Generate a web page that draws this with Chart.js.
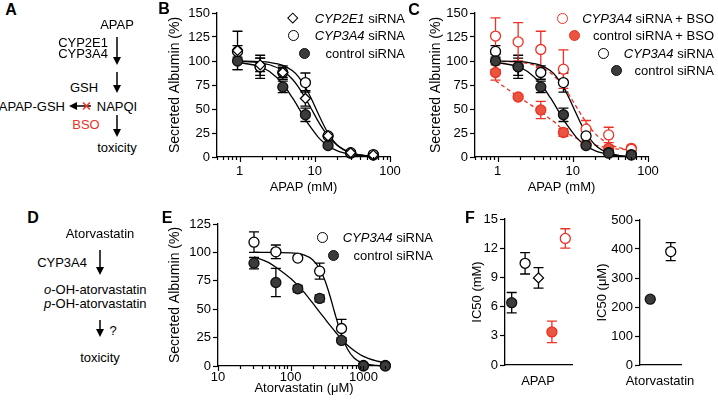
<!DOCTYPE html>
<html>
<head>
<meta charset="utf-8">
<title>APAP / atorvastatin albumin</title>
<script src="https://cdn.jsdelivr.net/npm/chart.js@4.4.1/dist/chart.umd.min.js"></script>
<style>
  body { margin: 0; background: #fff; }
  #fig { position: relative; width: 718px; height: 404px; overflow: hidden;
         font-family: "Liberation Sans", Arial, sans-serif; font-size: 13px; color: #000; }
  #fig canvas { position: absolute; }
  .t { position: absolute; white-space: nowrap; line-height: 1; }
  .letter { font-weight: bold; font-size: 16px; }
  .red { color: #ee3124; }
  .mk { position: absolute; box-sizing: border-box; }
</style>
</head>
<body>
<div id="fig">
  <svg id="arrows" width="718" height="404" style="position:absolute;left:0;top:0"></svg>
</div>
<script>
// ---- data ----
// APAP doses, mM (panels B, C)
const apapDose = [0.9375, 1.875, 3.75, 7.5, 15, 30, 60];
const apapTickLabels = [1, 10, 100];
const albuminTicks = [0, 25, 50, 75, 100, 125, 150];

const ctrlSi = [100, 94, 73, 44, 12, 4, 2];
const ctrlSiErr = [9, 9, 6, 7, 2, 1, 1];
const cyp3a4Si = [110, 94, 88, 77.5, 22, 4.5, 2.5];
const cyp3a4SiErr = [6, 12, 7, 10, 2, 1, 1];
const cyp2e1Si = [111, 96, 88, 61, 22, 4.5, 2];
const cyp2e1SiErr = [20, 7, 5, 8, 2, 1, 1];
const cyp3a4Bso = [126, 120, 112, 91.5, 29, 23, 8];
const cyp3a4BsoErr = [19, 20, 19, 20, 9, 8, 2];
const ctrlBso = [88, 62.5, 49, 25.5, 13, 9, 9];
const ctrlBsoErr = [8, 2, 9, 4, 2, 2, 2];

// fitted curves
const fitDose = [0.9375, 1.875, 2.5, 3.75, 5, 6, 7.5, 9, 11, 13, 15, 20, 30, 45, 60];
const ctrlFit = [98.7, 94, 89, 76, 62, 52, 39, 30, 21, 15.4, 11.6, 6.3, 2.6, 1, 0.5];
const cyp3a4Fit = [99.9, 99.4, 98.6, 95.5, 90, 84, 72.7, 60.7, 45.8, 33.9, 25, 12.3, 4, 1.2, 0.5];
const cyp2e1Fit = [99.7, 98.1, 96.1, 89.9, 81.3, 73.4, 61.2, 50, 37.7, 28.5, 21.8, 12, 4.7, 1.8, 0.9];
const cyp3a4BsoFit = [99.7, 98.7, 97.4, 93.4, 87.7, 82.2, 73.2, 64.1, 53, 43.7, 36.3, 24.1, 13.8, 9.1, 7.6];
const ctrlBsoFit = [79.5, 63, 56.5, 47.3, 39.5, 35, 27.5, 23.5, 19.8, 17.2, 15.2, 12.3, 9.3, 8, 7.3];

// atorvastatin doses, uM (panel E)
const atorDose = [31.25, 62.5, 125, 250, 500, 1000, 2000];
const atorTickLabels = [10, 100, 1000];
const atorAlbTicks = [0, 25, 50, 75, 100, 125];
const atorCyp3a4 = [109, 100.5, 95, 83.5, 33, 0.5, 0.5];
const atorCyp3a4Err = [9, 6, 0, 7, 8, 0, 0];
const atorCtrl = [90.5, 73.5, 68, 59.5, 22.5, 0, 0];
const atorCtrlErr = [5, 12.5, 3, 3, 0, 0, 0];
const atorFitDose = [31.25, 50, 62.5, 100, 125, 150, 200, 250, 300, 350, 400, 500, 600, 750, 1000, 1500, 2000];
const atorCyp3a4Fit = [100, 100, 99.9, 99.6, 99, 97.9, 93.5, 85.6, 74.1, 60.7, 47.5, 27, 15.2, 6.8, 2.3, 0.5, 0.1];
const atorCtrlFit = [96, 91, 87, 77, 71, 65.5, 55.5, 47.5, 41, 35.5, 31, 23.5, 18.5, 13.5, 8.5, 4.5, 2.8];

// IC50 (panel F)
const icApapGroups = ['control siRNA', 'CYP3A4 siRNA', 'CYP2E1 siRNA', 'control siRNA + BSO', 'CYP3A4 siRNA + BSO'];
const icApap = [6.4, 10.45, 8.95, 3.4, 13.0];
const icApapErr = [1.05, 1.1, 1.05, 1.1, 1.0];
const icApapTicks = [0, 3, 6, 9, 12, 15];
const icAtorGroups = ['control siRNA', 'CYP3A4 siRNA'];
const icAtor = [227, 391];
const icAtorErr = [0, 31];
const icAtorTicks = [0, 100, 200, 300, 400, 500];

// ---- styles ----
const FONT = '"Liberation Sans", Arial, sans-serif';
const BLACK_FILL = '#3b3b3b';
const RED = '#ee3124';
const RED_FILL = '#e9553e';
Chart.defaults.font.family = FONT;
Chart.defaults.color = '#000';

const fig = document.getElementById('fig');

const styleFilled = {pointStyle: 'circle', pointBackgroundColor: BLACK_FILL, pointBorderColor: '#111', errorColor: '#000'};
const styleOpen = {pointStyle: 'circle', pointBackgroundColor: '#fff', pointBorderColor: '#000', errorColor: '#000'};
const styleDiamond = {pointStyle: 'rectRot', pointBackgroundColor: '#fff', pointBorderColor: '#000', errorColor: '#000'};
const styleRedOpen = {pointStyle: 'circle', pointBackgroundColor: '#fff', pointBorderColor: RED, errorColor: RED};
const styleRedFilled = {pointStyle: 'circle', pointBackgroundColor: RED_FILL, pointBorderColor: RED, errorColor: RED};

// error bars under the markers
const errorBars = {
  id: 'errorBars',
  beforeDatasetsDraw(chart) {
    const ctx = chart.ctx;
    const ys = chart.scales.y;
    chart.data.datasets.forEach((ds, i) => {
      if (!ds.errors) return;
      const meta = chart.getDatasetMeta(i);
      meta.data.forEach((pt, j) => {
        const e = ds.errors[j];
        if (!e) return;
        const d = ds.data[j];
        const v = typeof d === 'object' ? d.y : d;
        const top = ys.getPixelForValue(v + e);
        const bot = ys.getPixelForValue(v - e);
        ctx.save();
        ctx.strokeStyle = Array.isArray(ds.errorColor) ? ds.errorColor[j] : ds.errorColor;
        ctx.lineWidth = 1.3;
        ctx.beginPath();
        ctx.moveTo(pt.x, top); ctx.lineTo(pt.x, bot);
        ctx.moveTo(pt.x - 5, top); ctx.lineTo(pt.x + 5, top);
        ctx.moveTo(pt.x - 5, bot); ctx.lineTo(pt.x + 5, bot);
        ctx.stroke();
        ctx.restore();
      });
    });
  }
};

// major / minor tick marks on log x axes
const logTicks = {
  id: 'logTicks',
  afterDraw(chart) {
    const sc = chart.scales.x;
    if (sc.type !== 'logarithmic') return;
    const ctx = chart.ctx;
    ctx.save();
    ctx.strokeStyle = '#000';
    ctx.lineWidth = 1.2;
    ctx.beginPath();
    for (let e = Math.floor(Math.log10(sc.min)); e <= Math.ceil(Math.log10(sc.max)); e++) {
      for (let k = 1; k < 10; k++) {
        const v = k * Math.pow(10, e);
        if (v < sc.min * 0.999 || v > sc.max * 1.001) continue;
        const px = Math.round(sc.getPixelForValue(v)) + 0.5;
        ctx.moveTo(px, sc.top);
        ctx.lineTo(px, sc.top + (k === 1 ? 5 : 3));
      }
    }
    ctx.stroke();
    ctx.restore();
  }
};

function pts(xs, ys) { return xs.map((x, i) => ({x, y: ys[i]})); }

function pointSet(xs, ys, errs, style) {
  return Object.assign({data: pts(xs, ys), errors: errs, showLine: false, clip: false,
    pointRadius: 5, pointHoverRadius: 5, pointBorderWidth: 1.3, order: 0}, style);
}

function curveSet(xs, ys, color, dash) {
  return {data: pts(xs, ys), showLine: true, pointRadius: 0, borderColor: color, borderWidth: 1.3,
    borderDash: dash || [], cubicInterpolationMode: 'monotone', clip: false, order: 1};
}

function yAxis(p, tickVals, title, size) {
  return {
    type: 'linear', min: tickVals[0], max: tickVals[tickVals.length - 1],
    afterBuildTicks: s => { s.ticks = tickVals.map(v => ({value: v})); },
    ticks: {font: {size: 13}, padding: 2, color: '#000'},
    grid: {drawOnChartArea: false, tickLength: 5, tickWidth: 1.2, tickColor: '#000'},
    border: {color: '#000', width: 1.3},
    title: {display: true, text: title, color: '#000', font: {size: size},
      padding: {top: p.yTitleX - p.box.left - size * 0.6, bottom: 0}},
    afterFit: s => { s.width = p.area.left - p.box.left; }
  };
}

function logX(p, min, max, labelVals, title, pad) {
  return {
    type: 'logarithmic', min, max,
    afterBuildTicks: s => {
      const t = [];
      for (let e = Math.floor(Math.log10(min)); e <= Math.ceil(Math.log10(max)); e++) {
        for (let k = 1; k < 10; k++) {
          const v = k * Math.pow(10, e);
          if (v >= min * 0.999 && v <= max * 1.001) t.push({value: v});
        }
      }
      s.ticks = t;
    },
    ticks: {autoSkip: false, maxRotation: 0, font: {size: 13}, padding: pad, color: '#000',
      callback: v => labelVals.some(l => Math.abs(l - v) < l * 1e-6) ? String(Math.round(v)) : ''},
    grid: {drawOnChartArea: false, tickLength: 5, tickColor: 'rgba(0,0,0,0)'},
    border: {color: '#000', width: 1.3},
    title: {display: true, text: title, color: '#000', font: {size: 13},
      padding: {top: 0, bottom: p.box.top + p.box.height - p.xTitleY - 7.8}},
    afterFit: s => { s.height = p.box.top + p.box.height - p.area.bottom; }
  };
}

function catX(p) {
  return {
    type: 'category', offset: true,
    ticks: {display: false},
    grid: {display: false},
    border: {color: '#000', width: 1.3},
    afterFit: s => { s.height = p.box.top + p.box.height - p.area.bottom; }
  };
}

function makeChart(p, type, data, scales) {
  const c = document.createElement('canvas');
  c.width = p.box.width;
  c.height = p.box.height;
  c.style.left = p.box.left + 'px';
  c.style.top = p.box.top + 'px';
  fig.appendChild(c);
  return new Chart(c, {
    type, data,
    options: {
      responsive: false, animation: false, events: [],
      layout: {autoPadding: false, padding: {left: 0, bottom: 0,
        top: p.area.top - p.box.top, right: p.box.left + p.box.width - p.area.right}},
      plugins: {legend: {display: false}, tooltip: {enabled: false}},
      scales
    },
    plugins: [errorBars, logTicks]
  });
}

// ---- panel geometry ----
const pB = {box: {left: 160, top: 0, width: 250, height: 200}, area: {left: 217, right: 390, top: 13, bottom: 157}, yTitleX: 175, xTitleY: 187};
const pC = {box: {left: 410, top: 0, width: 308, height: 200}, area: {left: 475, right: 648, top: 13, bottom: 157}, yTitleX: 436, xTitleY: 187};
const pE = {box: {left: 160, top: 200, width: 250, height: 204}, area: {left: 218, right: 390, top: 224, bottom: 366}, yTitleX: 175, xTitleY: 388};
const pF1 = {box: {left: 462, top: 200, width: 120, height: 204}, area: {left: 505, right: 572, top: 219, bottom: 365}, yTitleX: 477};
const pF2 = {box: {left: 590, top: 200, width: 128, height: 204}, area: {left: 640, right: 681, top: 220, bottom: 365}, yTitleX: 602};

// B
makeChart(pB, 'scatter', {datasets: [
  pointSet(apapDose, cyp2e1Si, cyp2e1SiErr, styleDiamond),
  pointSet(apapDose, cyp3a4Si, cyp3a4SiErr, styleOpen),
  pointSet(apapDose, ctrlSi, ctrlSiErr, styleFilled),
  curveSet(fitDose, cyp2e1Fit, '#000'),
  curveSet(fitDose, cyp3a4Fit, '#000'),
  curveSet(fitDose, ctrlFit, '#000')
]}, {
  x: logX(pB, 0.5, 100, apapTickLabels, 'APAP (mM)', 2),
  y: yAxis(pB, albuminTicks, 'Secreted Albumin (%)', 14)
});

// C
makeChart(pC, 'scatter', {datasets: [
  pointSet(apapDose, ctrlSi, ctrlSiErr, styleFilled),
  pointSet(apapDose, cyp3a4Si, cyp3a4SiErr, styleOpen),
  pointSet(apapDose, cyp3a4Bso, cyp3a4BsoErr, styleRedOpen),
  pointSet(apapDose, ctrlBso, ctrlBsoErr, styleRedFilled),
  curveSet(fitDose, cyp3a4Fit, '#000'),
  curveSet(fitDose, ctrlFit, '#000'),
  curveSet(fitDose, cyp3a4BsoFit, RED, [4, 3]),
  curveSet(fitDose, ctrlBsoFit, RED, [4, 3])
]}, {
  x: logX(pC, 0.5, 100, apapTickLabels, 'APAP (mM)', 2),
  y: yAxis(pC, albuminTicks, 'Secreted Albumin (%)', 14)
});

// E
makeChart(pE, 'scatter', {datasets: [
  pointSet(atorDose, atorCtrl, atorCtrlErr, styleFilled),
  pointSet(atorDose, atorCyp3a4, atorCyp3a4Err, styleOpen),
  curveSet(atorFitDose, atorCyp3a4Fit, '#000'),
  curveSet(atorFitDose, atorCtrlFit, '#000')
]}, {
  x: logX(pE, 10, 2320, atorTickLabels, 'Atorvastatin (\u03bcM)', -1),
  y: yAxis(pE, atorAlbTicks, 'Secreted Albumin (%)', 14)
});

// F (APAP IC50)
makeChart(pF1, 'line', {labels: icApapGroups, datasets: [{
  data: icApap, errors: icApapErr, showLine: false, clip: false,
  pointRadius: 5, pointHoverRadius: 5, pointBorderWidth: 1.3,
  pointStyle: ['circle', 'circle', 'rectRot', 'circle', 'circle'],
  pointBackgroundColor: [BLACK_FILL, '#fff', '#fff', RED_FILL, '#fff'],
  pointBorderColor: ['#111', '#000', '#000', RED, RED],
  errorColor: ['#000', '#000', '#000', RED, RED]
}]}, {
  x: catX(pF1),
  y: yAxis(pF1, icApapTicks, 'IC50 (mM)', 13)
});

// F (atorvastatin IC50)
makeChart(pF2, 'line', {labels: icAtorGroups, datasets: [{
  data: icAtor, errors: icAtorErr, showLine: false, clip: false,
  pointRadius: 5, pointHoverRadius: 5, pointBorderWidth: 1.3,
  pointBackgroundColor: [BLACK_FILL, '#fff'],
  pointBorderColor: ['#111', '#000'],
  errorColor: '#000'
}]}, {
  x: catX(pF2),
  y: yAxis(pF2, icAtorTicks, 'IC50 (\u03bcM)', 13)
});

// ---- text, legends, pathway sketches ----
function put(html, x, y, anchor, cls) {
  const d = document.createElement('div');
  d.className = 't' + (cls ? ' ' + cls : '');
  d.innerHTML = html;
  const tx = anchor === 'start' ? '0' : anchor === 'end' ? '-100%' : '-50%';
  d.style.left = x + 'px';
  d.style.top = y + 'px';
  d.style.transform = 'translate(' + tx + ',-50%)';
  fig.appendChild(d);
}

function mark(x, y, shape, fill, stroke) {
  const d = document.createElement('div');
  d.className = 'mk';
  const s = shape === 'diamond' ? 7.5 : 11;
  d.style.width = s + 'px';
  d.style.height = s + 'px';
  d.style.left = (x - s / 2) + 'px';
  d.style.top = (y - s / 2) + 'px';
  d.style.background = fill;
  d.style.border = '1.3px solid ' + stroke;
  if (shape === 'diamond') d.style.transform = 'rotate(45deg)';
  else d.style.borderRadius = '50%';
  fig.appendChild(d);
}

// F group titles (too wide for Chart.js's own axis title on the short axes)
put('APAP', 538, 380, 'middle');
put('Atorvastatin', 660, 380, 'middle');

// legends
put('<i>CYP2E1</i> siRNA', 405, 18, 'end'); mark(293, 18, 'diamond', '#fff', '#000');
put('<i>CYP3A4</i> siRNA', 405, 35, 'end'); mark(293, 35, 'circle', '#fff', '#000');
put('control siRNA', 405, 53, 'end'); mark(304, 53, 'circle', BLACK_FILL, '#111');

put('<i>CYP3A4</i> siRNA + BSO', 714, 18, 'end'); mark(562, 18, 'circle', '#fff', RED);
put('control siRNA + BSO', 714, 35, 'end'); mark(574, 35, 'circle', RED_FILL, RED);
put('<i>CYP3A4</i> siRNA', 714, 53, 'end'); mark(603, 53, 'circle', '#fff', '#000');
put('control siRNA', 714, 70, 'end'); mark(616, 70, 'circle', BLACK_FILL, '#111');

put('<i>CYP3A4</i> siRNA', 433, 237, 'end'); mark(322, 237, 'circle', '#fff', '#000');
put('control siRNA', 433, 255, 'end'); mark(333, 255, 'circle', BLACK_FILL, '#111');

// panel letters
put('A', 11, 10, 'middle', 'letter');
put('B', 164, 9, 'middle', 'letter');
put('C', 414, 10, 'middle', 'letter');
put('D', 33, 218, 'middle', 'letter');
put('E', 167, 218, 'middle', 'letter');
put('F', 470, 218, 'middle', 'letter');

// A: APAP pathway
put('APAP', 117, 24, 'middle');
put('CYP2E1', 108, 42, 'end');
put('CYP3A4', 108, 53, 'end');
put('GSH', 84, 87, 'middle');
put('NAPQI', 117, 106, 'middle');
put('APAP-GSH', 65, 106, 'end');
put('BSO', 86, 124, 'middle', 'red');
put('toxicity', 117, 147, 'middle');

// D: atorvastatin pathway
put('Atorvastatin', 100, 233, 'middle');
put('CYP3A4', 87, 262, 'end');
put('<i>o</i>-OH-atorvastatin', 44, 289, 'start');
put('<i>p</i>-OH-atorvastatin', 44, 303, 'start');
put('?', 113, 330, 'middle');
put('toxicity', 100, 357, 'middle');

const svg = document.getElementById('arrows');
function svgEl(tag, attrs) {
  const e = document.createElementNS('http://www.w3.org/2000/svg', tag);
  for (const k in attrs) e.setAttribute(k, attrs[k]);
  svg.appendChild(e);
}
function arrowDown(x, y1, y2) {
  svgEl('line', {x1: x, y1: y1, x2: x, y2: y2 - 6, stroke: '#000', 'stroke-width': 1.5});
  svgEl('polygon', {points: (x - 4) + ',' + (y2 - 8) + ' ' + (x + 4) + ',' + (y2 - 8) + ' ' + x + ',' + y2, fill: '#000'});
}
function arrowLeft(x1, x2, y) {
  svgEl('line', {x1: x1, y1: y, x2: x2 + 6, y2: y, stroke: '#000', 'stroke-width': 1.5});
  svgEl('polygon', {points: (x2 + 8) + ',' + (y - 4) + ' ' + (x2 + 8) + ',' + (y + 4) + ' ' + x2 + ',' + y, fill: '#000'});
}
arrowDown(117, 37, 65);
arrowDown(117, 72, 93);
arrowLeft(91, 69, 106);
arrowDown(117, 115, 137);
svgEl('line', {x1: 83, y1: 102.5, x2: 90, y2: 109.5, stroke: RED, 'stroke-width': 1.5});
svgEl('line', {x1: 90, y1: 102.5, x2: 83, y2: 109.5, stroke: RED, 'stroke-width': 1.5});
arrowDown(100, 250, 275);
arrowDown(100, 320, 337);
</script>
</body>
</html>
